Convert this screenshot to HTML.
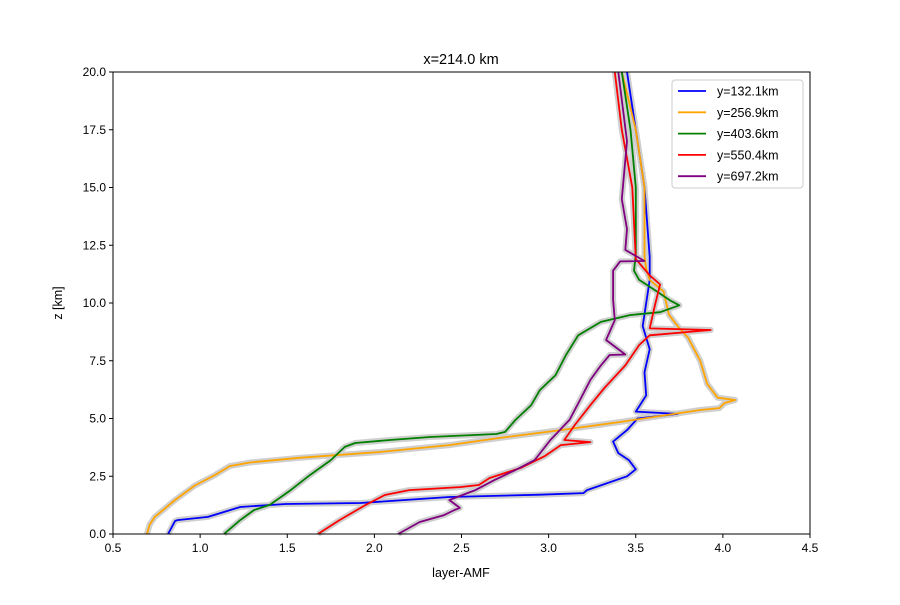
<!DOCTYPE html>
<html><head><meta charset="utf-8"><style>body{margin:0;background:#fff}svg{font-family:"Liberation Sans","DejaVu Sans",sans-serif}</style></head>
<body>
<svg id="chart" width="900" height="600" xmlns="http://www.w3.org/2000/svg">
<rect width="900" height="600" fill="#fff"/>
<text x="461" y="64" text-anchor="middle" font-size="14.5">x=214.0 km</text>
<text x="461" y="577" text-anchor="middle" font-size="12.5">layer-AMF</text>
<text transform="translate(62,303) rotate(-90)" text-anchor="middle" font-size="12.5">z [km]</text>
<g id="xticks"></g>
<g id="yticks"></g>
<g id="series"></g>
<rect x="113" y="72" width="697" height="462" fill="none" stroke="#000" stroke-width="1"/>
<g id="legend"></g>
</svg>
<script>
const xTicks=[0.5,1.0,1.5,2.0,2.5,3.0,3.5,4.0,4.5];
const yTicks=[0,2.5,5,7.5,10,12.5,15,17.5,20];
const seriesNames=["y=132.1km","y=256.9km","y=403.6km","y=550.4km","y=697.2km"];
const seriesColors=["blue","orange","green","red","purple"];
const blueX=[0.816,0.856,0.87,1.045,1.23,1.49,1.92,2.43,2.95,3.2,3.22,3.45,3.5,3.46,3.4,3.37,3.45,3.51,3.74,3.5,3.56,3.55,3.58,3.54,3.56,3.58,3.58,3.55,3.5,3.45];
const blueZ=[0,0.56,0.6,0.74,1.17,1.3,1.34,1.6,1.7,1.77,1.9,2.5,2.8,3.2,3.5,4.0,4.5,5.0,5.2,5.3,6.0,7.0,8.0,9.0,10.0,11.0,12.0,15.0,17.5,20];
const orangeX=[0.695,0.71,0.74,0.856,0.97,1.085,1.17,1.29,1.57,2.03,2.43,2.72,3.07,3.41,3.87,3.98,4.01,4.07,3.97,3.91,3.87,3.8,3.74,3.69,3.66,3.58,3.56,3.55,3.55,3.5,3.42];
const orangeZ=[0,0.4,0.74,1.47,2.1,2.55,2.94,3.1,3.3,3.55,3.85,4.16,4.5,4.85,5.37,5.45,5.67,5.8,5.9,6.5,7.5,8.5,9.0,9.5,10.5,11.0,11.5,12.0,15.0,17.5,20];
const greenX=[1.137,1.23,1.31,1.4,1.52,1.63,1.75,1.83,1.89,2.09,2.32,2.7,2.75,2.81,2.9,2.95,3.04,3.1,3.17,3.3,3.47,3.64,3.75,3.7,3.61,3.52,3.49,3.5,3.5,3.47,3.42];
const greenZ=[0,0.6,1.04,1.26,1.9,2.55,3.2,3.77,3.94,4.07,4.2,4.33,4.42,4.94,5.58,6.23,6.88,7.75,8.6,9.18,9.48,9.6,9.9,10.1,10.56,11.0,11.4,12.1,15.0,17.5,20];
const redX=[1.676,1.8,1.95,2.06,2.2,2.49,2.6,2.66,2.84,2.98,3.07,3.24,3.09,3.15,3.24,3.32,3.44,3.52,3.58,3.93,3.58,3.61,3.64,3.58,3.5,3.48,3.42,3.38];
const redZ=[0,0.6,1.26,1.69,1.9,2.03,2.12,2.42,2.86,3.38,3.85,3.98,4.07,4.72,5.58,6.32,7.3,8.18,8.6,8.83,8.9,9.9,10.8,11.2,11.9,15.0,17.5,20];
const purpleX=[2.136,2.26,2.4,2.46,2.49,2.43,2.58,2.69,2.81,2.92,3.01,3.12,3.18,3.24,3.3,3.35,3.44,3.33,3.38,3.37,3.37,3.41,3.55,3.44,3.45,3.42,3.45,3.4];
const purpleZ=[0,0.52,0.82,1.04,1.13,1.47,1.9,2.34,2.77,3.2,4.07,4.94,5.8,6.67,7.3,7.75,7.77,8.4,9.26,10.13,11.4,11.8,11.82,12.3,13.2,14.5,17.0,20];
const allX=[blueX,orangeX,greenX,redX,purpleX];
const allZ=[blueZ,orangeZ,greenZ,redZ,purpleZ];
const NS="http://www.w3.org/2000/svg";
const X0=113,X1=810,Y0=534,Y1=72;
function sx(v){return X0+(v-0.5)/(4.5-0.5)*(X1-X0);}
function sy(v){return Y0-(v-0)/(20-0)*(Y0-Y1);}
function mk(t,a,p){const e=document.createElementNS(NS,t);for(const k in a)e.setAttribute(k,a[k]);p.appendChild(e);return e;}
const xg=document.getElementById('xticks'),yg=document.getElementById('yticks');
xTicks.forEach(v=>{
  const l=mk('line',{x1:sx(v),x2:sx(v),y1:Y0,y2:Y0+4,stroke:'#000'},xg);
  
  
  const t=mk('text',{x:sx(v),y:Y0+18,'text-anchor':'middle','font-size':'12'},xg);
  
  
  t.textContent=v.toFixed(1);
});
yTicks.forEach(v=>{
  const l=mk('line',{x1:X0-4,x2:X0,y1:sy(v),y2:sy(v),stroke:'#000'},yg);
  
  
  const t=mk('text',{x:X0-7,y:sy(v)+4,'text-anchor':'end','font-size':'12'},yg);
  
  
  t.textContent=v.toFixed(1);
});
const sg=document.getElementById('series');
allX.forEach((xs,i)=>{
  const pts=xs.map((x,j)=>sx(x).toFixed(1)+','+sy(allZ[i][j]).toFixed(1)).join(' ');
  const b=mk('polyline',{points:pts,fill:'none',stroke:'#cfcfcf','stroke-width':'6','stroke-linejoin':'round'},sg);
  
  
});
allX.forEach((xs,i)=>{
  const pts=xs.map((x,j)=>sx(x).toFixed(1)+','+sy(allZ[i][j]).toFixed(1)).join(' ');
  const p=mk('polyline',{points:pts,fill:'none',stroke:seriesColors[i],'stroke-width':'1.8','stroke-linejoin':'round'},sg);
  
  
});
const lg=document.getElementById('legend');
const box=mk('rect',{x:672,y:80,width:131,height:108,rx:3,fill:'#fff','fill-opacity':'0.8',stroke:'#ccc'},lg);


seriesNames.forEach((n,i)=>{
  const y=91+i*21.3;
  const g=mk('g',{},lg);
  
  
  mk('line',{x1:678,x2:706,y1:y,y2:y,stroke:seriesColors[i],'stroke-width':'1.8'},g);
  const t=mk('text',{x:717,y:y+4.5,'font-size':'12.5'},g);
  t.textContent=n;
});
</script>
</body></html>
